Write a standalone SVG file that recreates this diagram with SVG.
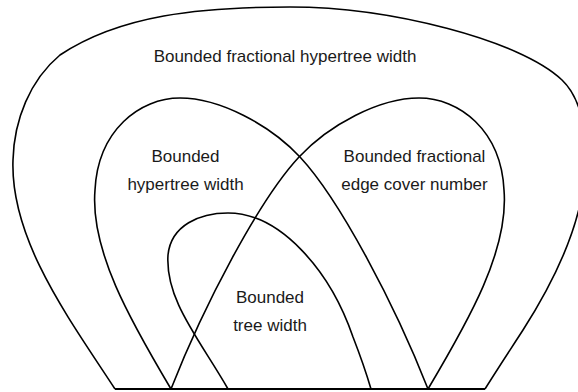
<svg xmlns="http://www.w3.org/2000/svg" width="578" height="392" viewBox="0 0 578 392">
<style>
.loop{fill:none;stroke:#000;stroke-width:1.6;stroke-linejoin:round}
.base{fill:none;stroke:#000;stroke-width:2}
.lbl{font-family:"Liberation Sans",Arial,sans-serif;font-size:17px;fill:#1a1a1a;text-anchor:middle}
</style>
<rect width="578" height="392" fill="#fff"/>
<g id="fractional-hypertree-width">
<path class="loop" d="M115,389 C70,320 10,240 13,160 C14,120 30,80 60,55 C120,15 200,7 290,7 C390,7 520,40 562,80 C580,97 588,130 585,170 C582,225 555,280 523,330 C510,350 497,370 485,389"/>
<text class="lbl" x="285" y="62">Bounded fractional hypertree width</text>
</g>
<g id="hypertree-width">
<path class="loop" d="M171,389 C130,320 90,250 95,190 C98,130 140,98 180,98 C220,98 270,125 300,157 C340,200 395,305 428,389"/>
<text class="lbl" x="185.5" y="162">Bounded</text>
<text class="lbl" x="185.5" y="190">hypertree width</text>
</g>
<g id="fractional-edge-cover">
<path class="loop" d="M428,389 C469,320 509,250 504,190 C501,130 459,98 419,98 C379,98 329,125 299,157 C259,200 204,305 171,389"/>
<text class="lbl" x="414.5" y="162">Bounded fractional</text>
<text class="lbl" x="414.5" y="190">edge cover number</text>
</g>
<g id="tree-width">
<path class="loop" d="M228,389 C200,340 165,300 168,255 C171,225 200,213 228,213 C280,213 330,270 353,337 C360,355 366,372 371,389"/>
<text class="lbl" x="270" y="303">Bounded</text>
<text class="lbl" x="270" y="331">tree width</text>
</g>
<g id="connectors">
<line class="base" x1="115" y1="389" x2="485" y2="389"/>
</g>
</svg>
